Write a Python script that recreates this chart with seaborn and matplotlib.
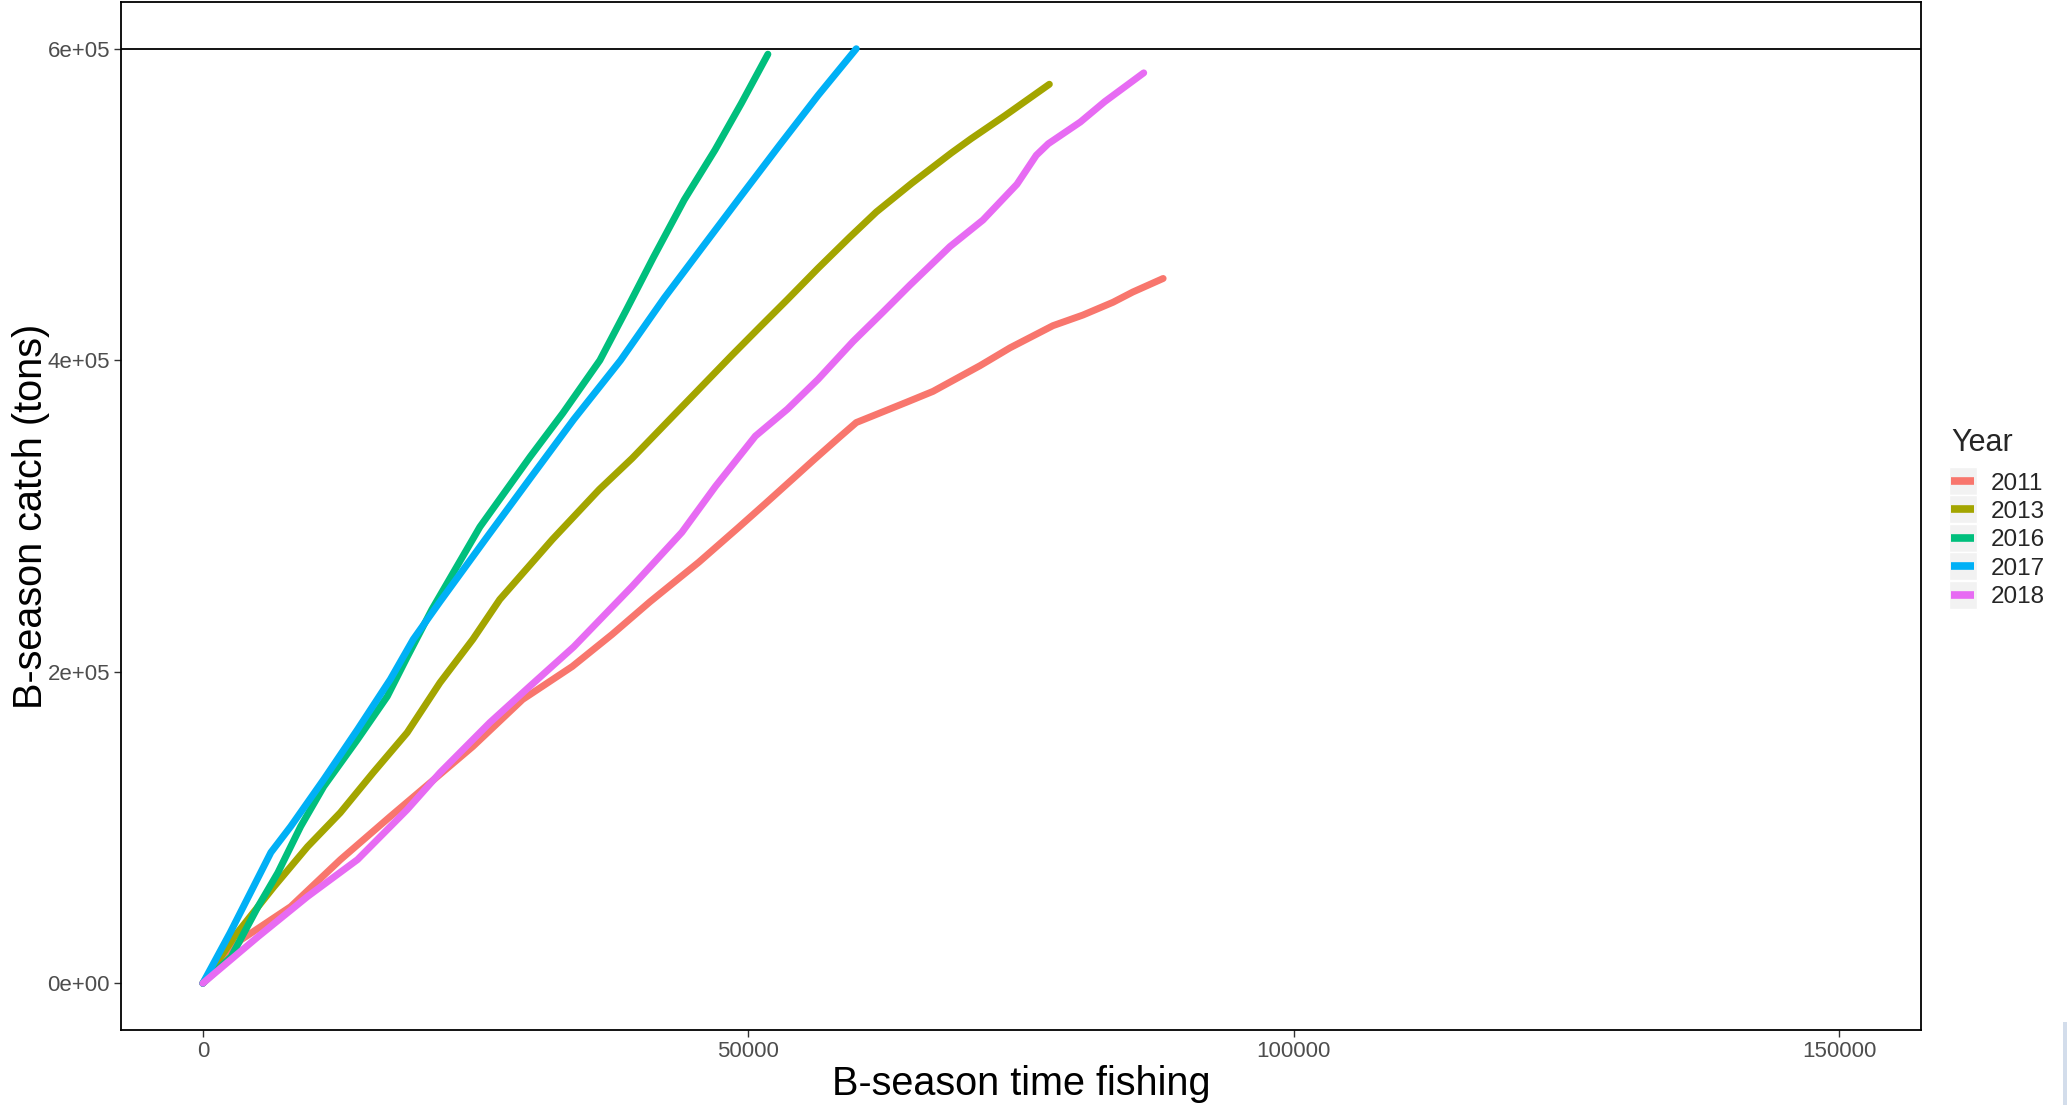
import numpy as np
import pandas as pd
import matplotlib
matplotlib.use("Agg")
import matplotlib.pyplot as plt
from matplotlib.patches import Rectangle
import seaborn as sns

# ---------------- data ----------------
years = ["2011", "2013", "2016", "2017", "2018"]
colors = ["#F8766D", "#A3A500", "#00BF7D", "#00B0F6", "#E76BF3"]

x2011 = [0, 3500, 8060, 12620, 17190, 20830, 24750, 29310, 33870, 37520, 41000, 45460, 49000, 51570,
         54580, 56000, 58420, 59900, 64530, 66930, 71240, 74000, 77930, 80670, 83430, 85250, 88030]
y2011 = [0, 27900, 49200, 79400, 107100, 128700, 152000, 182200, 203400, 224000, 245000, 270300, 292000, 308000,
         327000, 336000, 351000, 360000, 373100, 380000, 396500, 408000, 422200, 429000, 437200, 443800, 452500]

x2013 = [0, 3000, 6520, 9600, 12600, 15610, 18730, 21740, 24750, 27220, 32050, 36340, 39350, 43700,
         48470, 51160, 53590, 56390, 59300, 61740, 65000, 68600, 70420, 73500, 77600]
y2013 = [0, 31000, 62000, 87700, 109500, 135200, 160900, 193000, 220800, 246400, 285000, 317000, 337000, 368500,
         403000, 422000, 439000, 459000, 479000, 495200, 513700, 533000, 542200, 556900, 577200]

x2016 = [0, 2600, 5060, 6880, 8970, 11080, 14180, 16910, 18700, 21000, 25400, 30000, 33000, 36400,
         38800, 41300, 44130, 46950, 49370, 51800]
y2016 = [0, 17000, 49200, 71000, 100700, 126300, 156500, 184200, 209000, 240000, 293000, 338000, 366000, 400000,
         432000, 466000, 503000, 535000, 565000, 596500]

x2017 = [0, 2500, 6240, 8060, 11080, 14180, 17190, 19290, 21740, 26000, 30200, 34000, 38300, 42300,
         45840, 49370, 52860, 56390, 59900]
y2017 = [0, 32400, 84000, 100700, 130800, 162900, 195100, 220800, 245000, 286000, 326000, 362000, 400000, 440000,
         473000, 505800, 538000, 570000, 600000]

x2018 = [0, 5060, 9600, 14180, 18730, 21740, 26300, 29950, 34000, 39350, 43910, 47000, 50650, 53590,
         56390, 59600, 62360, 64830, 68490, 71510, 74630, 76400, 77500, 80450, 82670, 86250]
y2018 = [0, 29900, 55700, 79400, 111500, 135200, 167300, 190500, 216000, 254800, 289500, 319100, 351300, 368600,
         387700, 412000, 431000, 448300, 473000, 490000, 513000, 531600, 539000, 553000, 566000, 584500]

hline_y = 600000

xs = [x2011, x2013, x2016, x2017, x2018]
ys = [y2011, y2013, y2016, y2017, y2018]
frames = [pd.DataFrame({"time": x, "catch": y, "Year": yr}) for x, y, yr in zip(xs, ys, years)]
df = pd.concat(frames, ignore_index=True)

# ---------------- style ----------------
sns.set_theme(style="white")
plt.rcParams["font.family"] = ["Liberation Sans", "DejaVu Sans"]

W, H = 2067, 1105
fig = plt.figure(figsize=(W / 100, H / 100), dpi=100)
ax = fig.add_axes([121 / W, 1 - 1030 / H, (1921 - 121) / W, (1030 - 2) / H])

sns.lineplot(data=df, x="time", y="catch", hue="Year", hue_order=years,
             palette=dict(zip(years, colors)), sort=False, estimator=None,
             linewidth=5.0, ax=ax, legend=True)

ax.axhline(hline_y, color="black", linewidth=1.3, zorder=1)

ax.set_xlim(-7500, 157500)
ax.set_ylim(-30000, 630000)
ax.set_xticks([0, 50000, 100000, 150000])
ax.set_xticklabels(["0", "50000", "100000", "150000"])
ax.set_yticks([0, 200000, 400000, 600000])
ax.set_yticklabels(["0e+00", "2e+05", "4e+05", "6e+05"])

ax.tick_params(axis="both", which="major", direction="out", length=5, width=1,
               color="#333333", labelcolor="#4D4D4D", labelsize=16, pad=3,
               bottom=True, left=True)
for s in ax.spines.values():
    s.set_color("black")
    s.set_linewidth(1.3)
ax.grid(False)

ax.set_xlabel("B-season time fishing", fontsize=28.5, color="black", labelpad=2)
ax.set_ylabel("B-season catch (tons)", fontsize=28.5, color="black", labelpad=-2)

leg = ax.legend(title="Year", loc="upper left", bbox_to_anchor=(1951 / W, 1 - 428 / H),
                bbox_transform=fig.transFigure, frameon=False, fontsize=17.5,
                title_fontsize=22, handlelength=0.95, handletextpad=0.7,
                labelspacing=0.262, borderpad=0, borderaxespad=0)
leg._legend_box.align = "left"
leg._legend_box.sep = 10.5
for h in leg.legend_handles:
    h.set_linewidth(5.5)
    h.set_solid_capstyle("butt")

# gray key backgrounds like ggplot
fig.canvas.draw()
for h in leg.legend_handles:
    bb = h.get_window_extent()
    cy = (bb.y0 + bb.y1) / 2
    cx = (bb.x0 + bb.x1) / 2
    rect = Rectangle((cx - 14, cy - 14), 28, 28, transform=None,
                     facecolor="#F2F2F2", edgecolor="white", linewidth=1, zorder=-1)
    fig.patches.append(rect)

# small screenshot edge artefact bottom-right
fig.patches.append(Rectangle((2063 / W, 0), 4 / W, 83 / H, transform=fig.transFigure,
                             facecolor="#D3DDEB", edgecolor="none"))

fig.savefig("out.png", dpi=100)
